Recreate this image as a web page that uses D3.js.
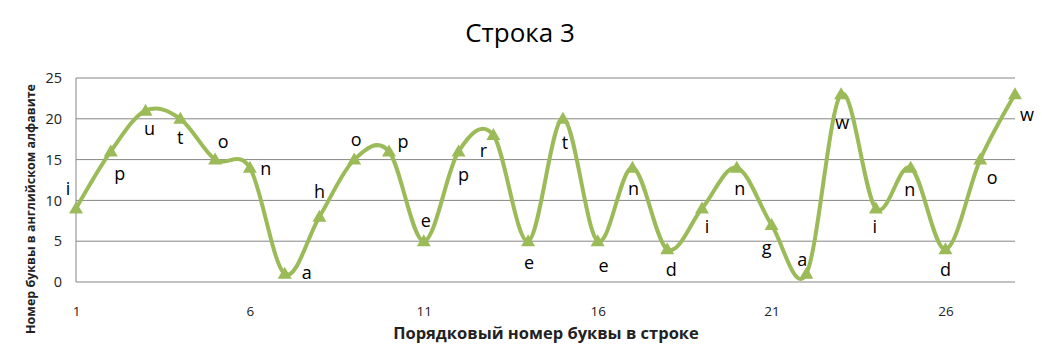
<!DOCTYPE html>
<html>
<head>
<meta charset="utf-8">
<script src="https://cdn.jsdelivr.net/npm/d3@7"></script>
<style>
  body { margin: 0; background: #fff; }
  text { font-family: "Open Sans", "Noto Sans", sans-serif; }
</style>
</head>
<body>
<div class="chart"></div>
<script>
// letters of the string and their number in the alphabet
var letters = ["i","p","u","t","o","n","a","h","o","p","e","p","r","e","t","e","n","d","i","n","g","a","w","i","n","d","o","w"];
var positions = [9,16,21,20,15,14,1,8,15,16,5,16,18,5,20,5,14,4,9,14,7,1,23,9,14,4,15,23];
var xTicks = [1, 6, 11, 16, 21, 26];
var yTicks = [0, 5, 10, 15, 20, 25];

// where each data label sits relative to its point (dx, dy)
var labelOffsets = [[-8,-18],[9,24],[4,20],[0,20],[8,-16],[16,2],[22,0],[0,-24],[2,-18],[14,-8],
  [2,-19],[5,25],[-10,17],[1,23],[2,25],[6,26],[1,22],[4,22],[5,20],[3,22],
  [-5,24],[-4,-13],[1,30],[-1,20],[-1,23],[0,22],[12,20],[12,22]];

var svgWidth = 1042, svgHeight = 360;
var margin = {top: 78, right: 27, bottom: 78, left: 76};
var width = svgWidth - margin.left - margin.right;
var height = svgHeight - margin.top - margin.bottom;

var data = letters.map(function(l, i) {
    return {n: i + 1, letter: l, value: positions[i]};
});

var svg = d3.select(".chart").append("svg")
    .attr("width", svgWidth)
    .attr("height", svgHeight);

var chart = svg.append("g")
    .attr("transform", "translate(" + margin.left + "," + margin.top + ")");

var x = d3.scaleLinear().domain([1, 28]).range([0, width]);
var y = d3.scaleLinear().domain([0, 25]).range([height, 0]);

// gridlines
chart.selectAll(".grid").data(yTicks).enter()
    .append("line")
    .attr("x1", 0).attr("x2", width)
    .attr("y1", function(d) { return y(d); })
    .attr("y2", function(d) { return y(d); })
    .attr("stroke", "#868686")
    .attr("stroke-width", 1);

// y axis line
chart.append("line")
    .attr("x1", 0).attr("x2", 0)
    .attr("y1", 0).attr("y2", height)
    .attr("stroke", "#868686");

var leftAxis = d3.axisLeft(y).tickValues(yTicks).tickSize(0).tickPadding(14);
var gy = chart.append("g").call(leftAxis);
gy.select(".domain").remove();
gy.selectAll("text").style("font-size", "14.5px").attr("fill", "#222");

var bottomAxis = d3.axisBottom(x).tickValues(xTicks).tickSize(0).tickPadding(24);
var gx = chart.append("g").attr("transform", "translate(0," + height + ")").call(bottomAxis);
gx.select(".domain").remove();
gx.selectAll("text").style("font-size", "13.5px").attr("fill", "#222");

// smoothed line
var line = d3.line()
    .x(function(d) { return x(d.n); })
    .y(function(d) { return y(d.value); })
    .curve(d3.curveCatmullRom.alpha(0));

chart.append("path")
    .datum(data)
    .attr("d", line)
    .attr("fill", "none")
    .attr("stroke", "#9bbb59")
    .attr("stroke-width", 4);

// triangle markers
chart.selectAll(".marker").data(data).enter()
    .append("path")
    .attr("d", "M0,-7L7,5L-7,5Z")
    .attr("transform", function(d) { return "translate(" + x(d.n) + "," + y(d.value) + ")"; })
    .attr("fill", "#9bbb59");

// letter labels
chart.selectAll(".lbl").data(data).enter()
    .append("text")
    .attr("x", function(d, i) { return x(d.n) + labelOffsets[i][0]; })
    .attr("y", function(d, i) { return y(d.value) + labelOffsets[i][1]; })
    .attr("text-anchor", "middle")
    .attr("dominant-baseline", "middle")
    .style("font-size", "18px")
    .attr("fill", "#000")
    .text(function(d) { return d.letter; });

// title
svg.append("text")
    .attr("x", 520).attr("y", 42)
    .attr("text-anchor", "middle")
    .style("font-size", "26px")
    .attr("fill", "#000")
    .text("Строка 3");

// x axis title
svg.append("text")
    .attr("x", 546).attr("y", 339)
    .attr("text-anchor", "middle")
    .style("font-size", "16.5px")
    .style("font-weight", "bold")
    .attr("fill", "#222")
    .text("Порядковый номер буквы в строке");

// y axis title
svg.append("text")
    .attr("transform", "translate(35,209) rotate(-90)")
    .attr("text-anchor", "middle")
    .style("font-size", "12.5px")
    .style("font-weight", "bold")
    .attr("fill", "#222")
    .text("Номер буквы в английском алфавите");
</script>
</body>
</html>
